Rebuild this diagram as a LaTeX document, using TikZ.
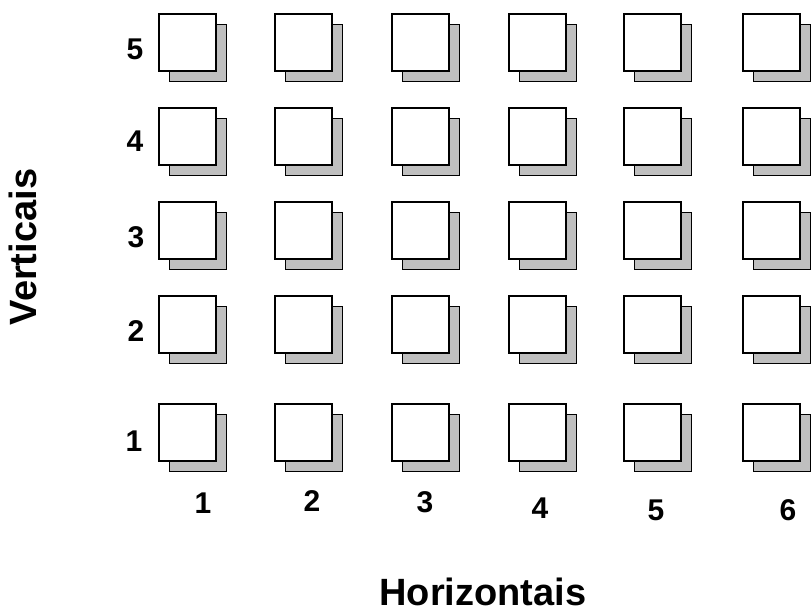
\documentclass[tikz,border=0pt]{standalone}
\usepackage{fontspec}
\setmainfont{Liberation Sans}
\usetikzlibrary{positioning}

\begin{document}
\begin{tikzpicture}[x=0.5pt,y=-0.5pt,
    front/.style={draw,line width=1pt,fill=white,minimum size=28.5pt,inner sep=0pt},
    back/.style={draw,line width=0.8pt,fill=black!25,minimum size=28.5pt,inner sep=0pt},
    num/.style={font=\fontsize{15}{17}\selectfont\bfseries},
    axis/.style={font=\fontsize{19}{22}\selectfont\bfseries,inner sep=1pt}]
  \useasboundingbox (0,0) rectangle (812,611);
  % cells: shadow square first, then the white one on top
  \foreach \cx [count=\c] in {187,303,420,537,652,771}
    \foreach \cy [count=\r] in {432,324,230,136,42} {
      \node[back] (b\c\r) at ({\cx+11},{\cy+11}) {};
      \node[front] (f\c\r) at (\cx,\cy) {};
    }
  % row and column numbers
  \foreach \lx/\ly [count=\r] in {134/441,136/331,136/237,135/141,135/49}
    \node[num] (v\r) at (\lx,\ly) {\r};
  \foreach \lx/\ly [count=\c] in {203/503,312/501,425/502,540/508,656/510,788/510}
    \node[num] (h\c) at (\lx,\ly) {\c};
  \node[axis] (haxis) at (483,592) {Horizontais};
  \node[axis,rotate=90] (vaxis) at (23,247) {Verticais};
\end{tikzpicture}
\end{document}
